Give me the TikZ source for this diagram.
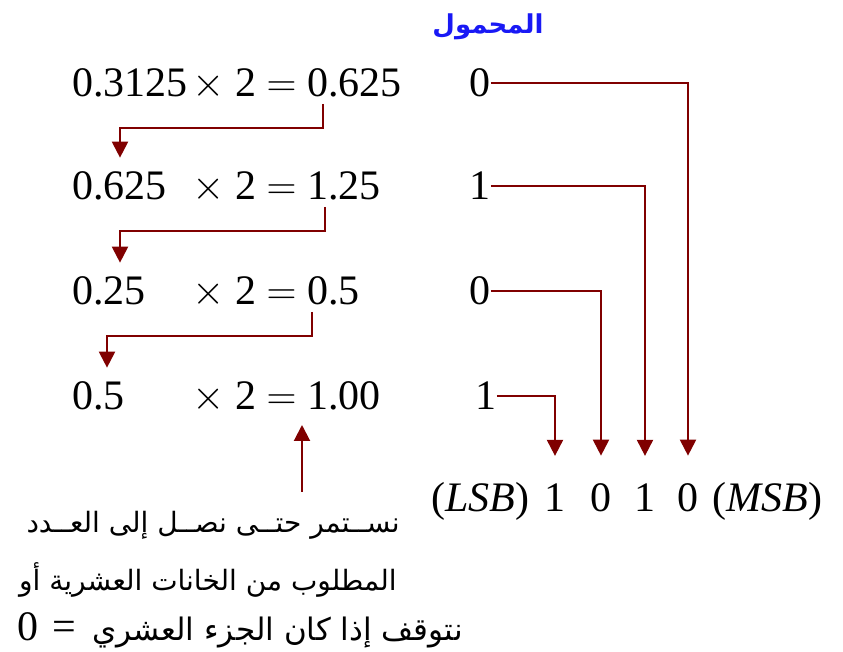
\documentclass[tikz,border=0pt]{standalone}
\usepackage{fontspec}
\setmainfont{Liberation Serif}
\newfontfamily\arabicfont[Script=Arabic]{DejaVu Sans}
\TeXXeTstate=1
\usetikzlibrary{arrows.meta,calc}
\definecolor{carryred}{RGB}{128,0,0}
\definecolor{titleblue}{RGB}{25,25,245}

\begin{document}
\begin{tikzpicture}[x=0.5pt,y=-0.5pt,>={Triangle[width=8pt,length=8pt]},
 eq/.style={inner sep=0pt,font=\fontsize{21}{25}\selectfont},
 arr/.style={->,draw=carryred,line width=1pt},
 note/.style={inner sep=0pt,font=\arabicfont\fontsize{14}{17}\selectfont}]
\useasboundingbox (0,0) rectangle (843,652);
% title
\node[inner sep=0pt,text=titleblue,font=\arabicfont\bfseries\fontsize{13}{16}\selectfont] (title) at (488,27) {\beginR المحمول\endR};
% rows of the multiplication
\foreach \i/\y/\a/\r/\c/\cx in {1/97/0.3125/0.625/0/480, 2/200/0.625/1.25/1/480, 3/305/0.25/0.5/0/480, 4/410/0.5/1.00/1/486} {
 \node[eq,anchor=base west] (a\i) at (72,\y) {\a};
 \node[eq,anchor=base east] (m\i) at (297,\y) {$\times$ 2 $=$};
 \node[eq,anchor=base west] (r\i) at (307,\y) {\r};
 \node[eq,anchor=base] (c\i) at (\cx,\y) {\c};
}
% result
\node[eq,anchor=base east] (lsb) at (530,512) {(\textit{LSB})};
\foreach \i/\x/\b in {1/555/1,2/601/0,3/645/1,4/688/0}
 \node[eq,anchor=base] (d\i) at (\x,512) {\b};
\node[eq,anchor=base west] (msb) at (712,512) {(\textit{MSB})};
% fraction goes down to the next row
\foreach \i/\j/\s/\t in {1/2/8pt/24pt,2/3/9pt/24pt,3/4/2.5pt/17.5pt}
 \draw[arr,shorten >=7pt] ([shift={(\s,-3pt)}]r\i.south west) -- ++(0,-12pt) -| ([xshift=\t]a\j.north west);
% carries to the result
\foreach \i/\j in {1/4,2/3,3/2,4/1}
 \draw[arr,shorten >=14pt] (c\i.east) -| (d\j.north);
% stop note
\coordinate (up) at (302,492);
\draw[arr,shorten >=7pt] (up) -- (up |- r4.south);
\node[note,anchor=east] (n1) at (400,525) {\beginR نســتمر حتــى نصــل إلى العــدد\endR};
\node[note,anchor=east] (n2) at (397,580) {\beginR المطلوب من الخانات العشرية أو\endR};
\node[note,anchor=east,font=\arabicfont\fontsize{15.5}{18}\selectfont] (n3) at (463,630) {{\rmfamily\fontsize{21}{25}\selectfont 0\,\,=}\hspace{8pt}\beginR نتوقف إذا كان الجزء العشري\endR};
\end{tikzpicture}
\end{document}
